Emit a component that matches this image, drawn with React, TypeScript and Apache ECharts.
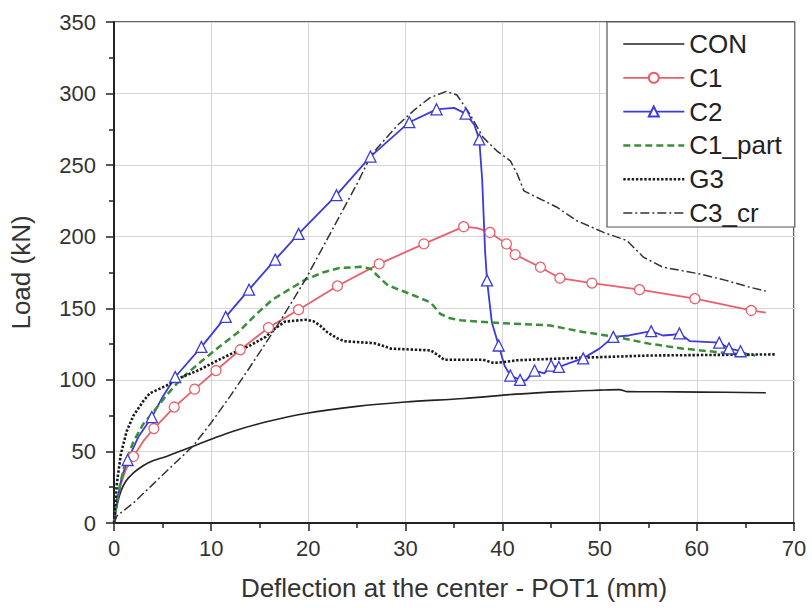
import React, { useEffect, useRef } from "react";
import * as echarts from "echarts";

const xTicks = [0, 10, 20, 30, 40, 50, 60, 70];
const yTicks = [0, 50, 100, 150, 200, 250, 300, 350];

const seriesNames = ["CON", "C1", "C2", "C1_part", "G3", "C3_cr"];

const conPoints = [
  [0, 0], [0.3, 12], [0.7, 22], [1.2, 29], [2, 35], [3, 40], [4, 43.5], [5.4, 46.5],
  [6.5, 49.5], [8.1, 53.5], [10, 58.5], [12.2, 64], [15.6, 70.5], [19.7, 76.5], [25, 81.5],
  [30, 84.5], [36, 87], [41.4, 90], [46, 91.8], [50, 92.8], [52, 93.2], [52.8, 91.8],
  [58, 91.6], [63, 91.3], [67.1, 91],
];

const c1Points = [
  [0, 0], [0.3, 14], [0.7, 27], [1.2, 37], [2, 46.5], [3, 57], [4.1, 66], [6.2, 81],
  [8.3, 93.5], [10.5, 106.5], [13, 121], [15.9, 136.5], [19, 149], [23, 165.6],
  [27.3, 181], [31.9, 195], [36, 207], [37.4, 206], [38.7, 203], [40.4, 195],
  [41.3, 187.5], [43.9, 178.7], [45.9, 171], [49.2, 167.6], [54.1, 163], [59.8, 156.7],
  [65.6, 148.5], [67.1, 147],
];
const c1MarkerIdx = [4, 6, 7, 8, 9, 10, 11, 12, 13, 14, 15, 16, 18, 19, 20, 21, 22, 23, 24, 25, 26];

const c2Points = [
  [0, 0], [0.4, 18], [0.8, 32], [1.4, 44], [2.5, 60], [3.9, 74], [5, 88], [6.3, 102],
  [9, 123], [11.5, 144], [13.9, 163], [16.6, 184], [19, 202], [22.9, 229], [26.4, 256],
  [30.4, 280], [33.2, 289], [35, 290], [36.2, 286], [37.1, 278], [37.6, 268], [37.9, 240],
  [38.2, 190], [38.4, 169.5], [38.9, 140], [39.6, 124], [40.2, 110], [40.8, 103],
  [41.8, 100], [42.4, 99.5], [43.3, 106.5], [44.3, 104.5], [45, 110], [45.8, 109],
  [47, 112], [48.3, 115], [50, 122], [51.4, 130], [53, 131], [55.3, 134], [56.5, 131],
  [57.5, 131.5], [58.2, 132.5], [59.3, 127], [62.3, 126], [63.3, 122], [64.5, 120],
  [65.2, 118],
];
const c2MarkerIdx = [3, 5, 7, 8, 9, 10, 11, 12, 13, 14, 15, 16, 18, 20, 23, 25, 27, 28, 30, 32, 33, 35, 37, 39, 42, 44, 45, 46];

const c1PartPoints = [
  [0, 0], [0.4, 20], [1, 38], [2, 57], [3, 69], [4.1, 78], [5.5, 90], [7.1, 102],
  [9, 113], [11, 124], [12.9, 134], [14.5, 145], [16.3, 156], [18, 163], [19.7, 170],
  [21.5, 175], [23.1, 178], [25.4, 179], [26.4, 177.6], [27.4, 171], [28.2, 166],
  [30.5, 160], [32.6, 154], [33.6, 146], [34.6, 143], [35.7, 141.6], [39.8, 139.7],
  [44.9, 138], [48.3, 133.4], [51.7, 130], [55.1, 125.3], [58.6, 121.8], [62, 119.5],
  [65, 117.5], [66, 117],
];

const g3Points = [
  [0, 0], [0.3, 28], [0.7, 48], [1.3, 64], [2, 75], [3, 85], [3.7, 90.7], [5.4, 96],
  [7, 102], [8.8, 107], [10.5, 113], [12.2, 118.6], [14, 124], [15.6, 130], [16.6, 136],
  [17.6, 140.7], [19.7, 142], [20.5, 141], [21.2, 138], [22, 133], [23, 129], [23.7, 127],
  [26.8, 125.6], [27.6, 124], [28.5, 121.8], [32.6, 120.6], [33.4, 117], [34, 114],
  [38, 114], [39.1, 111.8], [40.2, 112.5], [41.5, 113.7], [48.3, 115.5], [55.1, 117],
  [68.1, 117.8],
];

const c3crPoints = [
  [0, 0], [0.3, 5], [2, 14], [4, 27], [6, 40], [8.1, 53.5], [10, 70], [12, 89], [14, 109],
  [17.1, 141], [19.7, 170], [22.4, 204], [25.1, 238], [26.4, 256], [27.1, 262],
  [29.2, 278], [31, 289], [32.5, 297], [34.2, 301.5], [35.3, 299], [36.6, 286],
  [38, 269.4], [39.4, 260], [40.8, 253], [41.5, 244], [42.2, 232], [43.5, 227.6],
  [45.6, 220.6], [47.6, 211.3], [50.4, 203], [52.8, 197.3], [54.5, 185.7], [56.5, 178.7],
  [60.3, 174], [63, 169.5], [65.4, 164.8], [67.1, 162],
];

const FONT = "'Liberation Sans', Arial, sans-serif";

function withMarkers(points: number[][], idx: number[]) {
  return points.map((p, i) =>
    idx.indexOf(i) >= 0 ? { value: p } : { value: p, symbol: "none" }
  );
}

export default function App() {
  const ref = useRef<HTMLDivElement>(null);
  useEffect(() => {
    if (!ref.current) return;
    const chart = echarts.init(ref.current, null, { renderer: "svg" });
    const axisCommon = {
      type: "value" as const,
      nameLocation: "middle" as const,
      axisLine: { show: true, onZero: false, lineStyle: { color: "#222", width: 2 } },
      axisTick: { show: true, inside: false, length: 8, lineStyle: { color: "#222", width: 1.5 } },
      minorTick: { show: true, splitNumber: 2, length: 5, lineStyle: { color: "#222", width: 1.5 } },
      splitLine: { show: true, lineStyle: { color: "#d6d6d6", width: 1 } },
      axisLabel: { fontSize: 22, color: "#333", fontFamily: FONT },
      nameTextStyle: { fontSize: 26, color: "#333", fontFamily: FONT },
    };
    chart.setOption({
      animation: false,
      backgroundColor: "#fff",
      grid: {
        left: 112, right: 18, top: 22, bottom: 85,
        show: true, borderColor: "#333", borderWidth: 1.5, backgroundColor: "transparent",
      },
      xAxis: {
        ...axisCommon,
        min: xTicks[0], max: xTicks[xTicks.length - 1], interval: xTicks[1] - xTicks[0],
        name: "Deflection at the center - POT1 (mm)",
        nameGap: 52,
        axisLabel: { ...axisCommon.axisLabel, margin: 14 },
      },
      yAxis: {
        ...axisCommon,
        min: yTicks[0], max: yTicks[yTicks.length - 1], interval: yTicks[1] - yTicks[0],
        name: "Load (kN)",
        nameGap: 80,
        axisLabel: { ...axisCommon.axisLabel, margin: 18 },
      },
      legend: {
        orient: "vertical",
        left: 607,
        top: 22,
        padding: [9, 13, 1, 15],
        itemWidth: 61,
        itemHeight: 12.5,
        itemGap: 7.8,
        backgroundColor: "#fff",
        borderColor: "#555",
        borderWidth: 1.2,
        borderRadius: 0,
        textStyle: { fontSize: 26, lineHeight: 26, color: "#222", fontFamily: FONT },
        data: [
          { name: seriesNames[0], itemStyle: { opacity: 0 }, lineStyle: { width: 1.6 } },
          { name: seriesNames[1], lineStyle: { width: 1.8 } },
          { name: seriesNames[2], lineStyle: { width: 1.8 } },
          { name: seriesNames[3], itemStyle: { opacity: 0 }, lineStyle: { width: 2.5 } },
          { name: seriesNames[4], itemStyle: { opacity: 0 }, lineStyle: { width: 2.6 } },
          { name: seriesNames[5], itemStyle: { opacity: 0 }, lineStyle: { width: 1.5 } },
        ],
      },
      series: [
        {
          name: seriesNames[0], type: "line", data: conPoints, symbol: "none",
          lineStyle: { color: "#222", width: 1.6 }, itemStyle: { color: "#222" },
          smooth: 0.3,
        },
        {
          name: seriesNames[1], type: "line", data: withMarkers(c1Points, c1MarkerIdx),
          symbol: "circle", symbolSize: 10, showAllSymbol: true,
          lineStyle: { color: "#e8606b", width: 1.8 },
          itemStyle: { color: "#fff", borderColor: "#e8606b", borderWidth: 1.3 },
        },
        {
          name: seriesNames[2], type: "line", data: withMarkers(c2Points, c2MarkerIdx),
          symbol: "triangle", symbolSize: 11, showAllSymbol: true,
          lineStyle: { color: "#3b3bdb", width: 1.8 },
          itemStyle: { color: "#fff", borderColor: "#3b3bdb", borderWidth: 1.3 },
        },
        {
          name: seriesNames[3], type: "line", data: c1PartPoints, symbol: "none",
          lineStyle: { color: "#3a8f3a", width: 2.5, type: [7, 4] },
          itemStyle: { color: "#3a8f3a" },
        },
        {
          name: seriesNames[4], type: "line", data: g3Points, symbol: "none",
          lineStyle: { color: "#1a1a1a", width: 2.6, type: [2.4, 1.8] },
          itemStyle: { color: "#1a1a1a" },
        },
        {
          name: seriesNames[5], type: "line", data: c3crPoints, symbol: "none",
          lineStyle: { color: "#333", width: 1.5, type: [9, 3, 2, 3] },
          itemStyle: { color: "#333" },
        },
      ],
    });
    return () => chart.dispose();
  }, []);
  return (
    <div
      ref={ref}
      style={{ position: "fixed", left: 0, top: 0, width: 812, height: 608, background: "#fff" }}
    />
  );
}
